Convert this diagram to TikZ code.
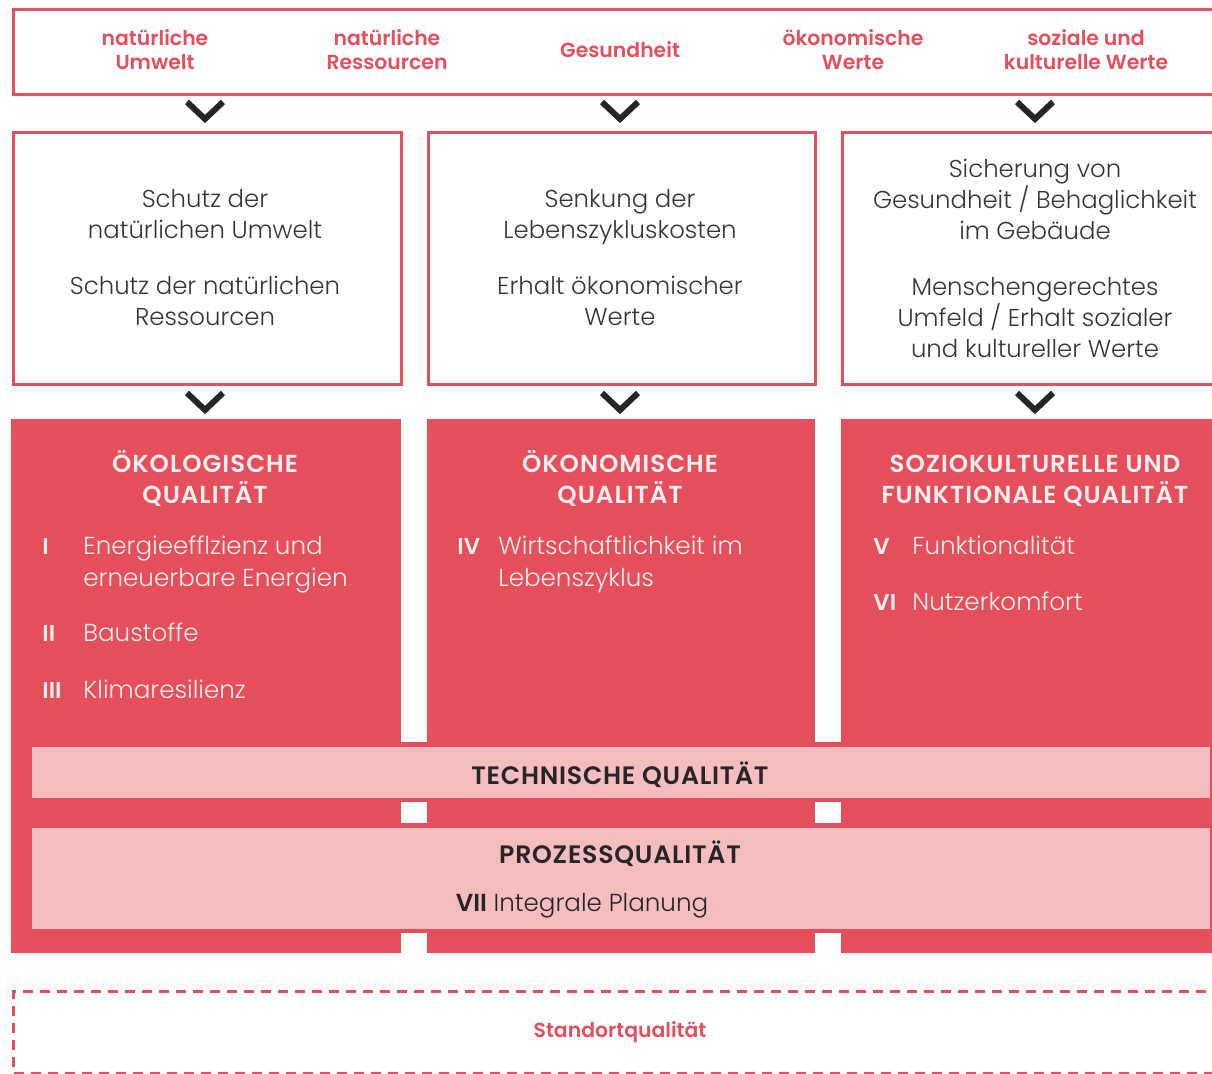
\documentclass[tikz,border=0pt]{standalone}
\usepackage{fontspec}
\setmainfont{Poppins}[UprightFont={* Light}, BoldFont={* SemiBold}]
\begin{document}
\begin{tikzpicture}[x=0.5pt,y=-0.5pt]
\definecolor{qred}{RGB}{228,79,91}
\definecolor{qpink}{RGB}{245,189,191}
\definecolor{qwhite}{RGB}{255,238,238}
\definecolor{qdark}{RGB}{38,38,40}
\definecolor{qgrey}{RGB}{55,55,58}
\tikzset{
  frame/.style={draw=qred, line width=1.7pt, fill=white, inner sep=0pt, anchor=north west},
  redbox/.style={fill=qred, inner sep=0pt, anchor=north west},
  pinkband/.style={fill=qpink, inner sep=0pt, anchor=north west},
  chev/.style={draw=qdark, line width=3pt, line join=miter},
  toplabel/.style={text=qred, font=\bfseries\fontsize{10.2}{12}\selectfont, align=center},
  wtext/.style={text=qgrey, font=\fontsize{12.2}{15.5}\selectfont, align=center},
  head/.style={text=qwhite, font=\bfseries\fontsize{12.3}{15.5}\selectfont\addfontfeatures{LetterSpace=4}, align=center, anchor=base},
  numst/.style={text=qwhite, font=\bfseries\fontsize{11.5}{16}\selectfont, anchor=base west, inner sep=0pt},
  item/.style={text=qwhite, font=\fontsize{12.3}{16}\selectfont, anchor=base west, inner sep=0pt, align=left},
  bandhead/.style={text=qdark, font=\bfseries\fontsize{12.6}{14}\selectfont\addfontfeatures{LetterSpace=3}},
}
\useasboundingbox (0,0) rectangle (1212,1074);
\clip (0,0) rectangle (1212,1074);

% top band
\node[frame, minimum width=609pt, minimum height=42.5pt] (top) at (12,8) {};
\node[toplabel] (t1) at (155,50) {natürliche\\Umwelt};
\node[toplabel] (t2) at (387,50) {natürliche\\Ressourcen};
\node[toplabel] (t3) at (620,50) {Gesundheit};
\node[toplabel] (t4) at (853,50) {ökonomische\\Werte};
\node[toplabel] (t5) at (1086,50) {soziale und\\kulturelle Werte};

% chevrons
\foreach \cx in {205,620,1035}{
  \draw[chev] (\cx,110) ++(-18,-8) -- ++(18,17) -- ++(18,-17);
  \draw[chev] (\cx,401) ++(-18,-8) -- ++(18,17) -- ++(18,-17);
}

% white boxes
\node[frame, minimum width=194pt, minimum height=126pt] (w1) at (12,131) {};
\node[frame, minimum width=193.5pt, minimum height=126pt] (w2) at (427,131) {};
\node[frame, minimum width=200pt, minimum height=126pt] (w3) at (841,131) {};
\node[wtext] (w1t) at (205,258) {Schutz der\\natürlichen Umwelt\\[12.5pt]Schutz der natürlichen\\Ressourcen};
\node[wtext] (w2t) at (620,258) {Senkung der\\Lebenszykluskosten\\[12.5pt]Erhalt ökonomischer\\Werte};
\node[wtext] (w3t) at (1035,258) {Sicherung von\\Gesundheit / Behaglichkeit\\im Gebäude\\[12.5pt]Menschengerechtes\\Umfeld / Erhalt sozialer\\und kultureller Werte};

% red columns
\node[redbox, minimum width=195pt, minimum height=267pt] (r1) at (11,419) {};
\node[redbox, minimum width=194pt, minimum height=267pt] (r2) at (427,419) {};
\node[redbox, minimum width=200pt, minimum height=267pt] (r3) at (841,419) {};
% bridges between columns
\foreach \gx in {401,815}{
  \fill[qred] (\gx,742) rectangle (\gx+26,802);
  \fill[qred] (\gx,823) rectangle (\gx+26,933);
}

% headings (anchored at baseline of last line)
\node[head] (h1) at (205,504) {ÖKOLOGISCHE\\QUALITÄT};
\node[head] (h2) at (620,504) {ÖKONOMISCHE\\QUALITÄT};
\node[head] (h3) at (1035,504) {SOZIOKULTURELLE UND\\FUNKTIONALE QUALITÄT};

% items
\node[numst] (n1) at (42,555) {I};
\node[item] (i1) at (83,587) {Energieefflzienz und\\erneuerbare Energien};
\node[numst] (n2) at (42,642) {II};
\node[item] (i2) at (83,642) {Baustoffe};
\node[numst] (n3) at (42,699) {III};
\node[item] (i3) at (83,699) {Klimaresilienz};
\node[numst] (n4) at (457,555) {IV};
\node[item] (i4) at (498,587) {Wirtschaftlichkeit im\\Lebenszyklus};
\node[numst] (n5) at (873,555) {V};
\node[item] (i5) at (912,555) {Funktionalität};
\node[numst] (n6) at (873,611) {VI};
\node[item] (i6) at (912,611) {Nutzerkomfort};

% bands
\node[pinkband, minimum width=589pt, minimum height=25.5pt] (tech) at (32,747) {};
\node[bandhead] (techt) at (620,775) {TECHNISCHE QUALITÄT};
\node[pinkband, minimum width=589pt, minimum height=50.5pt] (proz) at (32,828) {};
\node[bandhead] (przt) at (620,854) {PROZESSQUALITÄT};
\node[text=qdark, font=\fontsize{12.3}{14}\selectfont] (vii) at (582,906) {\textbf{VII} Integrale Planung};

% location
\node[draw=qred, line width=1.5pt, dash pattern=on 5pt off 3.5pt, inner sep=0pt, anchor=north west, minimum width=609pt, minimum height=41pt] (stand) at (12,990) {};
\node[text=qred, font=\bfseries\fontsize{10.2}{12}\selectfont] (standt) at (620,1032) {Standortqualität};
\end{tikzpicture}
\end{document}
